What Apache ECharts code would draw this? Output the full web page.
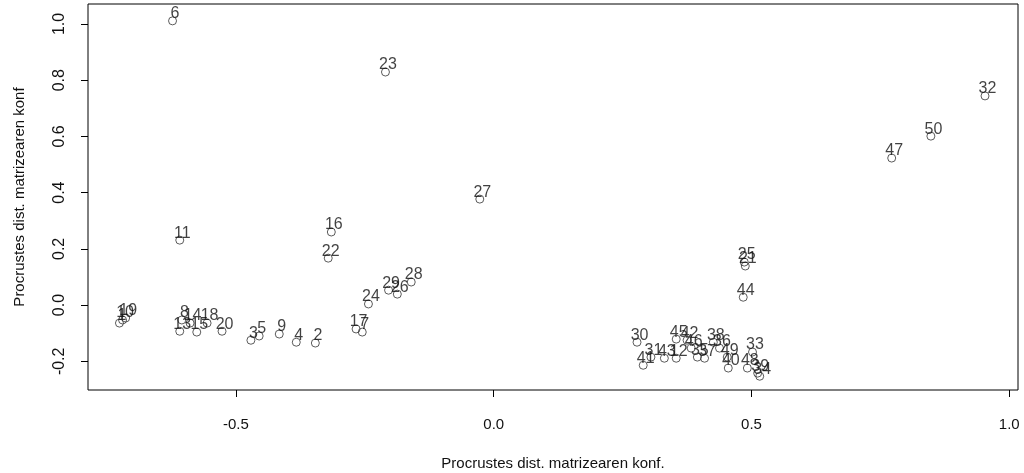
<!DOCTYPE html>
<html>
<head>
<meta charset="utf-8">
<script src="https://cdn.jsdelivr.net/npm/echarts@6/dist/echarts.min.js"></script>
<style>
  html, body { margin: 0; padding: 0; background: #fff; }
  #chart { width: 1024px; height: 473px; }
</style>
</head>
<body>
<div id="chart"></div>
<script>
// point labels (observation numbers) and their coordinates
const labels = ['1','2','3','4','5','6','7','8','9','10','11','12','13','14','15','16','17','18','19','20',
  '21','22','23','24','25','26','27','28','29','30','31','32','33','34','35','36','37','38','39','40',
  '41','42','43','44','45','46','47','48','49','50']
const xs = [-0.726, -0.346, -0.471, -0.383, -0.455, -0.623, -0.255, -0.605, -0.416, -0.720,
  -0.609, 0.354, -0.609, -0.589, -0.576, -0.315, -0.267, -0.556, -0.714, -0.527,
  0.488, -0.321, -0.210, -0.243, 0.486, -0.187, -0.027, -0.160, -0.204, 0.278,
  0.305, 0.953, 0.502, 0.516, 0.395, 0.438, 0.409, 0.426, 0.512, 0.455,
  0.290, 0.375, 0.331, 0.484, 0.354, 0.383, 0.772, 0.492, 0.453, 0.848]
const ys = [-0.064, -0.135, -0.125, -0.132, -0.110, 1.011, -0.096, -0.053, -0.103, -0.053,
  0.231, -0.189, -0.093, -0.064, -0.096, 0.260, -0.085, -0.064, -0.046, -0.093,
  0.139, 0.167, 0.829, 0.004, 0.153, 0.039, 0.377, 0.082, 0.053, -0.132,
  -0.185, 0.744, -0.167, -0.253, -0.185, -0.153, -0.189, -0.132, -0.242, -0.224,
  -0.214, -0.125, -0.189, 0.028, -0.121, -0.153, 0.523, -0.224, -0.185, 0.601]
const xTicks = [-0.5, 0.0, 0.5, 1.0]
const yTicks = [-0.2, 0.0, 0.2, 0.4, 0.6, 0.8, 1.0]
const axisTitle = 'Procrustes dist. matrizearen konf'

const chart = echarts.init(document.getElementById('chart'))

const points = labels.map((name, i) => ({ name, value: [xs[i], ys[i]] }))

chart.setOption({
  animation: false,
  grid: {
    left: 88, right: 6, top: 4, bottom: 83,
    outerBoundsMode: 'none',
    containLabel: false,
    show: true, borderColor: '#000', borderWidth: 1, backgroundColor: 'transparent'
  },
  xAxis: {
    type: 'value',
    min: -0.787, max: 1.017,
    name: axisTitle + '.',
    nameLocation: 'middle',
    nameGap: 66,
    nameTextStyle: { fontFamily: 'Liberation Sans Narrow, Liberation Sans, Arial', fontSize: 15, color: '#111' },
    axisLine: { show: false, onZero: false },
    splitLine: { show: false },
    axisTick: { show: true, length: 7, inside: false, customValues: xTicks, lineStyle: { color: '#000' } },
    axisLabel: {
      customValues: xTicks,
      margin: 27,
      fontFamily: 'Liberation Sans Narrow, Liberation Sans, Arial',
      fontSize: 15, color: '#111',
      formatter: v => v.toFixed(1)
    }
  },
  yAxis: {
    type: 'value',
    min: -0.302, max: 1.071,
    name: axisTitle,
    nameLocation: 'middle',
    nameGap: 61,
    nameRotate: 90,
    nameTextStyle: { fontFamily: 'Liberation Sans, Arial', fontSize: 15, color: '#111' },
    axisLine: { show: false, onZero: false },
    splitLine: { show: false },
    axisTick: { show: true, length: 7, inside: false, customValues: yTicks, lineStyle: { color: '#000' } },
    axisLabel: {
      customValues: yTicks,
      rotate: 90,
      margin: 20,
      fontFamily: 'Liberation Sans, Arial',
      fontSize: 16, color: '#111',
      formatter: v => v.toFixed(1)
    }
  },
  series: [
    {
      type: 'scatter',
      data: points,
      symbol: 'circle',
      symbolSize: 8,
      itemStyle: { color: 'rgba(0,0,0,0)', borderColor: '#333', borderWidth: 1 },
      label: {
        show: true,
        position: [7, -2.5],
        align: 'center',
        verticalAlign: 'middle',
        formatter: p => p.name,
        fontFamily: 'Liberation Sans, Arial',
        fontSize: 16,
        color: '#111'
      },
      labelLayout: { hideOverlap: false }
    }
  ]
})
</script>
</body>
</html>
